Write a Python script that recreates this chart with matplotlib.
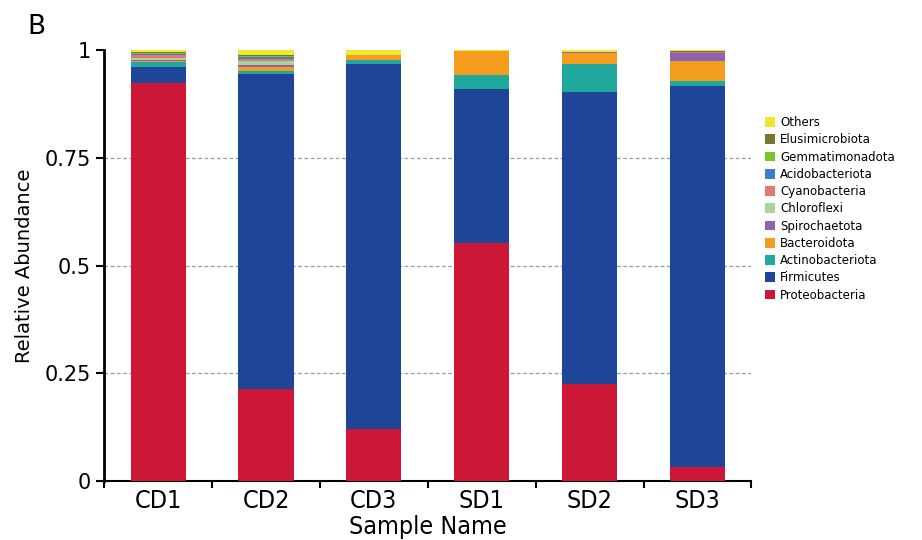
import matplotlib
matplotlib.use("Agg")
import matplotlib.pyplot as plt
import numpy as np

samples = ["CD1", "CD2", "CD3", "SD1", "SD2", "SD3"]

# stacked from bottom to top
phyla = ["Proteobacteria", "Firmicutes", "Actinobacteriota", "Bacteroidota",
         "Spirochaetota", "Chloroflexi", "Cyanobacteria", "Acidobacteriota",
         "Gemmatimonadota", "Elusimicrobiota", "Others"]
colors = ["#CC1836", "#1F4598", "#1FA89B", "#F39C1E", "#8A63B5", "#A8D49A",
          "#E87575", "#3A7FC9", "#7DC42A", "#7A7431", "#EEE833"]

proteobacteria = [0.923, 0.213, 0.120, 0.552, 0.225, 0.032]
firmicutes = [0.037, 0.732, 0.848, 0.359, 0.678, 0.885]
actinobacteriota = [0.012, 0.006, 0.010, 0.031, 0.064, 0.012]
bacteroidota = [0.002, 0.010, 0.010, 0.056, 0.027, 0.046]
spirochaetota = [0.003, 0.004, 0.000, 0.000, 0.001, 0.018]
chloroflexi = [0.005, 0.010, 0.000, 0.000, 0.001, 0.001]
cyanobacteria = [0.006, 0.004, 0.000, 0.000, 0.000, 0.001]
acidobacteriota = [0.003, 0.005, 0.000, 0.000, 0.000, 0.001]
gemmatimonadota = [0.002, 0.002, 0.000, 0.000, 0.000, 0.001]
elusimicrobiota = [0.002, 0.002, 0.000, 0.000, 0.000, 0.001]
others = [0.005, 0.012, 0.012, 0.002, 0.004, 0.002]

series = [proteobacteria, firmicutes, actinobacteriota, bacteroidota,
          spirochaetota, chloroflexi, cyanobacteria, acidobacteriota,
          gemmatimonadota, elusimicrobiota, others]

fig = plt.figure(figsize=(9.22, 5.4), dpi=100)
ax = fig.add_axes([0.113, 0.109, 0.702, 0.798])

x = np.arange(len(samples))
bottom = np.zeros(len(samples))
handles = []
for name, vals, c in zip(phyla, series, colors):
    b = ax.bar(x, vals, 0.51, bottom=bottom, color=c, label=name, zorder=3)
    handles.append(b)
    bottom += np.array(vals)

ax.set_xlim(-0.5, 5.5)
ax.set_ylim(0, 1)
ax.set_yticks([0, 0.25, 0.5, 0.75, 1])
ax.set_yticklabels(["0", "0.25", "0.5", "0.75", "1"], fontsize=15)
for yv in [0.25, 0.5, 0.75]:
    ax.axhline(yv, color="#999999", linestyle=(0, (3, 2)), linewidth=0.9, zorder=1)

ax.set_xticks(x)
ax.set_xticklabels(samples, fontsize=18, fontstretch="condensed")
ax.set_xticks(np.arange(-0.5, 6, 1), minor=True)
ax.tick_params(axis="x", which="major", length=0, pad=6)
ax.tick_params(axis="x", which="minor", length=5, width=1.5, direction="out")
ax.tick_params(axis="y", length=6, width=1.5, direction="out")

for s in ["top", "right"]:
    ax.spines[s].set_visible(False)
ax.spines["left"].set_linewidth(2)
ax.spines["bottom"].set_linewidth(1.5)

ax.set_ylabel("Relative Abundance", fontsize=14, labelpad=8)
ax.set_xlabel("Sample Name", fontsize=18, fontstretch="condensed", labelpad=1)

fig.text(0.03, 0.975, "B", fontsize=19, va="top", ha="left")

leg = fig.legend(handles[::-1], phyla[::-1], loc="upper left",
                 bbox_to_anchor=(0.823, 0.796), frameon=False, fontsize=8.5,
                 handlelength=0.9, handleheight=0.9, handletextpad=0.4,
                 labelspacing=0.36, borderpad=0)

fig.savefig("out.png", dpi=100)
